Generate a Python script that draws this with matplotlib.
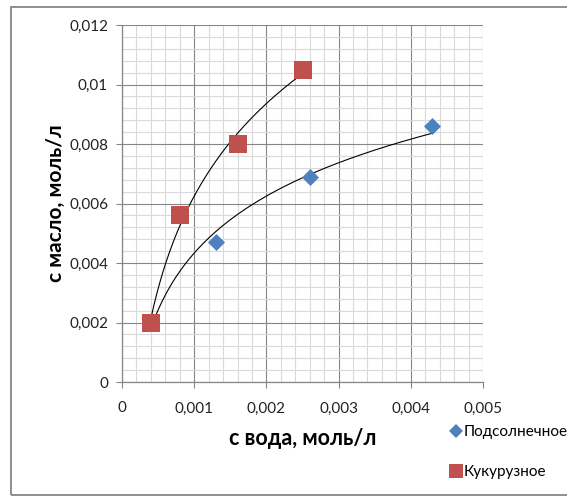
import numpy as np
import matplotlib
matplotlib.use("Agg")
import matplotlib.pyplot as plt
from matplotlib.ticker import MultipleLocator, FuncFormatter
from matplotlib.patches import Rectangle
from matplotlib.lines import Line2D

plt.rcParams['font.family'] = ['Lato', 'DejaVu Sans']

# --- DATA ---
sun_x = [0.0004, 0.0013, 0.0026, 0.0043]
sun_y = [0.0020, 0.0047, 0.0069, 0.0086]
corn_x = [0.0004, 0.0008, 0.0016, 0.0025]
corn_y = [0.0020, 0.0056, 0.0080, 0.0105]
names = ["Подсолнечное", "Кукурузное"]
x_label = "с вода, моль/л"
y_label = "с масло, моль/л"

blue = "#4F81BD"
red = "#C0504D"
major_c = "#868686"
minor_c = "#D9D9D9"

fig = plt.figure(figsize=(5.67, 5.03), dpi=100)
ax = fig.add_axes([122 / 567, 1 - 382 / 503, 361 / 567, 357 / 503])


def log_trend(xs, ys):
    # excel-style logarithmic trendline
    b, a = np.polyfit(np.log(xs), ys, 1)
    xx = np.linspace(min(xs), max(xs), 200)
    return xx, a + b * np.log(xx)


for xs, ys in [(sun_x, sun_y), (corn_x, corn_y)]:
    tx, ty = log_trend(np.array(xs), np.array(ys))
    ax.plot(tx, ty, color="black", lw=0.8, zorder=3)

ax.scatter(sun_x, sun_y, marker="D", s=75, color=blue, zorder=4, linewidths=0)
ax.scatter(corn_x, corn_y, marker="s", s=165, color=red, zorder=5, linewidths=0)

ax.set_xlim(0, 0.005)
ax.set_ylim(0, 0.012)
ax.xaxis.set_major_locator(MultipleLocator(0.001))
ax.xaxis.set_minor_locator(MultipleLocator(0.0002))
ax.yaxis.set_major_locator(MultipleLocator(0.002))
ax.yaxis.set_minor_locator(MultipleLocator(0.0004))

fmt = FuncFormatter(lambda v, p: ("%g" % round(v, 6)).replace(".", ","))
ax.xaxis.set_major_formatter(fmt)
ax.yaxis.set_major_formatter(fmt)

ax.grid(True, which="minor", color=minor_c, lw=0.8, zorder=0)
ax.grid(True, which="major", color=major_c, lw=0.8, zorder=1)
ax.set_axisbelow(True)

for s in ["top", "right"]:
    ax.spines[s].set_visible(False)
for s in ["left", "bottom"]:
    ax.spines[s].set_color(major_c)
    ax.spines[s].set_linewidth(0.9)

ax.tick_params(which="major", direction="out", length=4, color=major_c,
               labelsize=11, labelcolor="#222222")
ax.tick_params(axis="x", pad=10)
ax.tick_params(axis="y", pad=6)
ax.tick_params(which="minor", length=0)

ax.set_xlabel(x_label, fontsize=15.5, fontweight="bold", labelpad=9)
ax.set_ylabel(y_label, fontsize=15, fontweight="bold", labelpad=2)

# legend outside on the right, below the plot
handles = [
    Line2D([], [], marker="D", ls="none", color=blue, markersize=7, markeredgewidth=0),
    Line2D([], [], marker="s", ls="none", color=red, markersize=9.5, markeredgewidth=0),
]
fig.legend(handles, names, loc="upper left", bbox_to_anchor=(444 / 567, 1 - 419 / 503),
           frameon=False, fontsize=11, handlelength=0.8, handletextpad=0.1,
           labelspacing=1.7, borderaxespad=0)

# chart area border
fig.patches.append(Rectangle((11 / 567, 1 - 495 / 503), 1.0, (495 - 7) / 503,
                             transform=fig.transFigure, fill=False,
                             edgecolor=major_c, lw=1.3))

fig.savefig("out.png", dpi=100)
